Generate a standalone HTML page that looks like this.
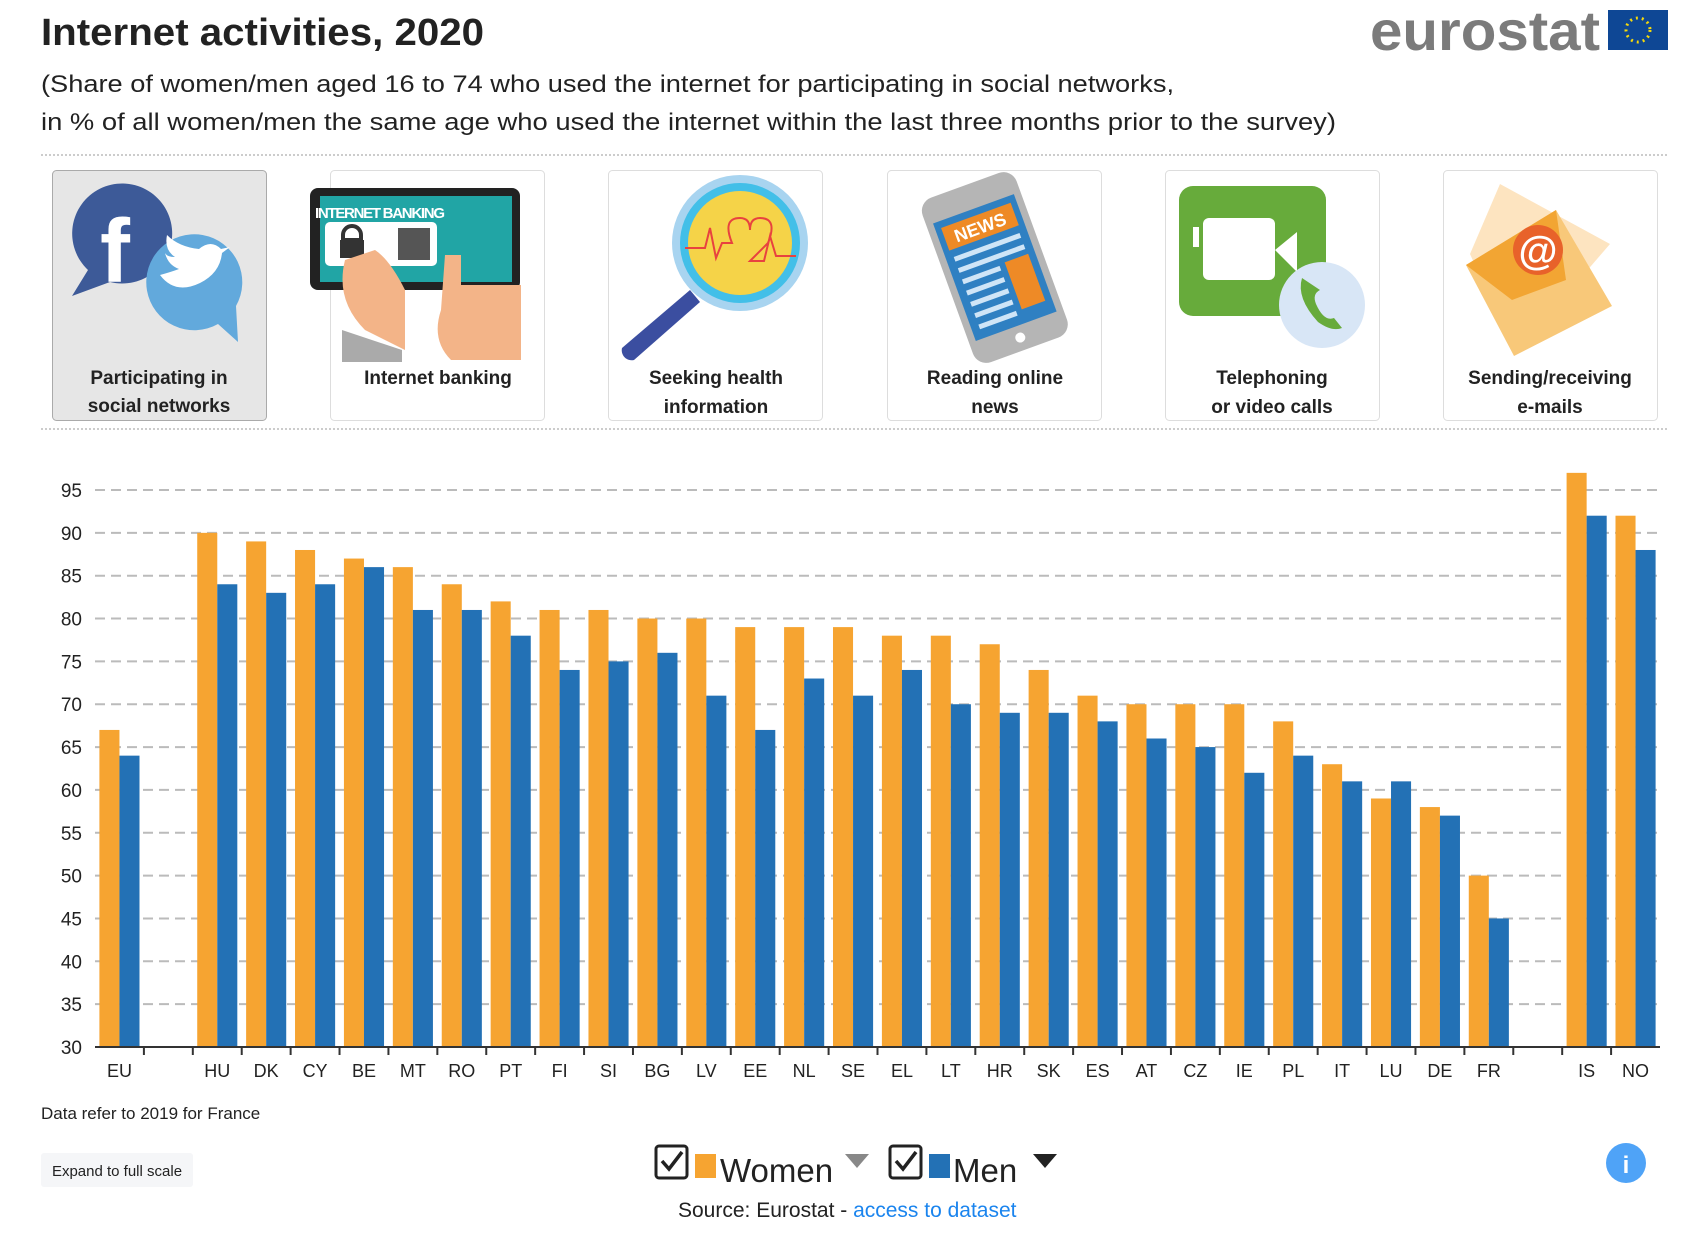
<!DOCTYPE html>
<html><head><meta charset="utf-8">
<style>
html,body{margin:0;padding:0;background:#fff;}
body{width:1684px;height:1230px;overflow:hidden;font-family:"Liberation Sans",sans-serif;}
svg text{font-family:"Liberation Sans",sans-serif;}
</style></head>
<body>
<svg id="page" width="1684" height="1230" viewBox="0 0 1684 1230" xmlns="http://www.w3.org/2000/svg">
  <text x="41" y="45" font-size="38" font-weight="bold" fill="#222" textLength="443" lengthAdjust="spacingAndGlyphs">Internet activities, 2020</text>
  <text x="41" y="92" font-size="24" fill="#222" textLength="1133" lengthAdjust="spacingAndGlyphs">(Share of women/men aged 16 to 74 who used the internet for participating in social networks,</text>
  <text x="41" y="130" font-size="24" fill="#222" textLength="1295" lengthAdjust="spacingAndGlyphs">in % of all women/men the same age who used the internet within the last three months prior to the survey)</text>

  <g>
    <text x="1370" y="50" font-size="56" font-weight="bold" fill="#7b7b7b" textLength="230" lengthAdjust="spacingAndGlyphs">eurostat</text>
    <rect x="1608" y="10" width="60" height="40" fill="#0e4795"/>
    <circle cx="1638" cy="30" r="12" fill="none" stroke="#f5d90a" stroke-width="3" stroke-dasharray="2 4"/>
  </g>

  <line x1="41" y1="155" x2="1668" y2="155" stroke="#ccc" stroke-width="2" stroke-dasharray="2 2"/>
  <line x1="41" y1="429" x2="1668" y2="429" stroke="#ccc" stroke-width="2" stroke-dasharray="2 2"/>

  <g>
    <rect x="52.5" y="170.5" width="214" height="250" rx="4" fill="#e6e6e6" stroke="#aaa"/>
    <path d="M72 296 L88 270 A50 50 0 1 1 110 282 Z" fill="#3d5a98"/>
    <text x="100" y="282" font-size="90" font-weight="bold" fill="#fff">f</text>
    <path d="M238 342 L218 324 A48 48 0 1 1 236 306 Z" fill="#62a9dc"/>
    <path d="M160 275 q15 20 40 8 q20 -10 22 -30 l8 -6 l-9 2 q-10 -10 -22 0 q-20 -2 -32 -14 q-3 15 8 22 q-8 0 -10 -4 q3 12 14 16 q-8 3 -19 6 z" fill="#fff"/>
    <text x="159" y="384" font-size="19" font-weight="bold" fill="#222" text-anchor="middle">Participating in</text>
    <text x="159" y="412" font-size="19" font-weight="bold" fill="#222" text-anchor="middle">social networks</text>
  </g>
  <g>
    <rect x="330.5" y="170.5" width="214" height="250" rx="4" fill="#fff" stroke="#ddd"/>
    <rect x="310" y="188" width="210" height="102" rx="8" fill="#222"/>
    <rect x="320" y="196" width="192" height="86" fill="#21a5a5"/>
    <text x="380" y="218" font-size="15" font-weight="bold" fill="#fff" text-anchor="middle" textLength="130">INTERNET BANKING</text>
    <rect x="325" y="222" width="112" height="44" rx="5" fill="#fff"/>
    <rect x="398" y="228" width="32" height="32" fill="#555"/>
    <path d="M343 235 a9 9 0 0 1 18 0 v5 h-18z" fill="none" stroke="#333" stroke-width="4"/>
    <rect x="340" y="240" width="24" height="18" fill="#333"/>
    <path d="M345 260 q-10 40 20 70 l40 20 l0 -60 q-15 -30 -30 -40 z" fill="#f3b488"/>
    <path d="M445 255 l16 0 l0 30 l60 0 l0 75 l-70 0 q-20 -20 -10 -50 z" fill="#f3b488"/>
    <path d="M342 330 l60 20 l0 12 l-60 0 z" fill="#aaa"/>
    <text x="438" y="384" font-size="19" font-weight="bold" fill="#222" text-anchor="middle">Internet banking</text>
  </g>
  <g>
    <rect x="608.5" y="170.5" width="214" height="250" rx="4" fill="#fff" stroke="#ddd"/>
    <circle cx="740" cy="243" r="68" fill="#a8d4f0"/>
    <circle cx="740" cy="243" r="60" fill="#42bfe8"/>
    <circle cx="740" cy="243" r="52" fill="#f5d348"/>
    <path d="M685 248 h20 l5 -20 l6 30 l6 -15 h10 q-10 -25 8 -25 q10 0 10 12 q0 -12 10 -12 q18 0 8 25 l-18 18 h14 l6 -25 l6 20 h20" fill="none" stroke="#e8423f" stroke-width="2"/>
    <path d="M690 290 l-68 58 a10 10 0 0 0 12 12 l66 -58 z" fill="#3b4ea0"/>
    <text x="716" y="384" font-size="19" font-weight="bold" fill="#222" text-anchor="middle">Seeking health</text>
    <text x="716" y="413" font-size="19" font-weight="bold" fill="#222" text-anchor="middle">information</text>
  </g>
  <g>
    <rect x="887.5" y="170.5" width="214" height="250" rx="4" fill="#fff" stroke="#ddd"/>
    <g transform="rotate(-20 995 268)">
      <rect x="945" y="180" width="100" height="175" rx="14" fill="#b5b5b5"/>
      <rect x="952" y="205" width="86" height="125" fill="#2f80c2"/>
      <rect x="958" y="212" width="74" height="24" fill="#ee8a26"/>
      <text x="995" y="231" font-size="18" font-weight="bold" font-family="Liberation Serif" fill="#fff" text-anchor="middle">NEWS</text>
      <g stroke="#cfe5f7" stroke-width="5">
        <line x1="960" y1="246" x2="1030" y2="246"/><line x1="960" y1="258" x2="1030" y2="258"/>
        <line x1="960" y1="270" x2="1000" y2="270"/><line x1="960" y1="282" x2="1000" y2="282"/>
        <line x1="960" y1="294" x2="1000" y2="294"/><line x1="960" y1="306" x2="1000" y2="306"/>
        <line x1="960" y1="318" x2="1000" y2="318"/>
      </g>
      <rect x="1006" y="266" width="25" height="50" fill="#ee8a26"/>
      <circle cx="995" cy="342" r="5" fill="#fff"/>
    </g>
    <text x="995" y="384" font-size="19" font-weight="bold" fill="#222" text-anchor="middle">Reading online</text>
    <text x="995" y="413" font-size="19" font-weight="bold" fill="#222" text-anchor="middle">news</text>
  </g>
  <g>
    <rect x="1165.5" y="170.5" width="214" height="250" rx="4" fill="#fff" stroke="#ddd"/>
    <rect x="1179" y="186" width="147" height="130" rx="14" fill="#67ab3b"/>
    <rect x="1203" y="218" width="72" height="62" rx="6" fill="#fff"/>
    <rect x="1193" y="227" width="6" height="20" fill="#fff"/>
    <path d="M1275 250 l22 -18 v40 z" fill="#fff"/>
    <circle cx="1322" cy="305" r="43" fill="#d8e6f6"/>
    <path d="M1302 278 q-6 20 16 44 q14 10 24 6 l-8 -10 q-10 4 -18 -14 q-4 -10 4 -14 z" fill="#67ab3b"/>
    <text x="1272" y="384" font-size="19" font-weight="bold" fill="#222" text-anchor="middle">Telephoning</text>
    <text x="1272" y="413" font-size="19" font-weight="bold" fill="#222" text-anchor="middle">or video calls</text>
  </g>
  <g>
    <rect x="1443.5" y="170.5" width="214" height="250" rx="4" fill="#fff" stroke="#ddd"/>
    <path d="M1500 184 l110 60 l-95 110 l-45 -100 z" fill="#fde4c0"/>
    <path d="M1466 265 l90 -55 l56 96 l-98 50 z" fill="#f8c879"/>
    <path d="M1466 265 l90 -55 l10 70 l-54 20 z" fill="#f2a533"/>
    <circle cx="1538" cy="250" r="25" fill="#e8622a"/>
    <text x="1538" y="264" font-size="40" font-weight="bold" fill="#fff" text-anchor="middle">@</text>
    <text x="1550" y="384" font-size="19" font-weight="bold" fill="#222" text-anchor="middle">Sending/receiving</text>
    <text x="1550" y="413" font-size="19" font-weight="bold" fill="#222" text-anchor="middle">e-mails</text>
  </g>

  <g id="chart"></g>

  <text x="41" y="1119" font-size="17" fill="#222">Data refer to 2019 for France</text>
  <g>
    <rect x="41" y="1153" width="152" height="34" rx="3" fill="#f5f6f8"/>
    <text x="117" y="1176" font-size="15" fill="#222" text-anchor="middle">Expand to full scale</text>
  </g>

  <g>
    <g>
      <rect x="656" y="1146" width="31" height="32" rx="3" fill="none" stroke="#222" stroke-width="3"/>
      <path d="M662 1161 l7 8 l13 -17" fill="none" stroke="#222" stroke-width="3.5"/>
      <rect x="695" y="1154" width="21" height="24" fill="#f6a431"/>
      <text x="720" y="1182" font-size="33" fill="#222">Women</text>
      <path d="M845 1154 l12 14 l12 -14 z" fill="#888"/>
    </g>
    <g>
      <rect x="890" y="1146" width="31" height="32" rx="3" fill="none" stroke="#222" stroke-width="3"/>
      <path d="M896 1161 l7 8 l13 -17" fill="none" stroke="#222" stroke-width="3.5"/>
      <rect x="929" y="1154" width="21" height="24" fill="#2371b5"/>
      <text x="953" y="1182" font-size="33" fill="#222">Men</text>
      <path d="M1033 1154 l12 14 l12 -14 z" fill="#222"/>
    </g>
  </g>
  <text x="678" y="1217" font-size="21" fill="#222">Source: Eurostat - <tspan fill="#1a84ee">access to dataset</tspan></text>
  <g>
    <circle cx="1626" cy="1163" r="20" fill="#4fa3f7"/>
    <text x="1626" y="1173" font-size="24" font-weight="bold" fill="#fff" text-anchor="middle">i</text>
  </g>
</svg>
<script>
const categories = ["EU","","HU","DK","CY","BE","MT","RO","PT","FI","SI","BG","LV","EE","NL","SE","EL","LT","HR","SK","ES","AT","CZ","IE","PL","IT","LU","DE","FR","","IS","NO"];
const women = [67,null,90,89,88,87,86,84,82,81,81,80,80,79,79,79,78,78,77,74,71,70,70,70,68,63,59,58,50,null,97,92];
const men = [64,null,84,83,84,86,81,81,78,74,75,76,71,67,73,71,74,70,69,69,68,66,65,62,64,61,61,57,45,null,92,88];
const yTicks = [30,35,40,45,50,55,60,65,70,75,80,85,90,95];

const NS = "http://www.w3.org/2000/svg";
const chart = document.getElementById('chart');
const X0 = 95, X1 = 1660, Y0 = 1047, YMIN = 30, YMAX = 95, YTOP = 490;
const slot = (X1 - X0) / categories.length;
function yScale(v){ return Y0 - (v - YMIN) * (Y0 - YTOP) / (YMAX - YMIN); }
function xScale(i){ return X0 + i * slot; }
function mk(tag, attrs){ const e = document.createElementNS(NS, tag); for (const k in attrs) e.setAttribute(k, attrs[k]); chart.appendChild(e); return e; }

yTicks.forEach(t => {
  const y = yScale(t);
  if (t !== YMIN) {
    const g = mk('line', {x1: X0, x2: X1, y1: y, y2: y, stroke: '#bbb', 'stroke-width': 2, 'stroke-dasharray': '10 6'});
    
    
  }
  const lb = mk('text', {x: 82, y: y + 7, 'font-size': 19, fill: '#222', 'text-anchor': 'end'});
  lb.textContent = t;
  
  
});

const bw = slot * 0.41, pad = (slot - 2 * bw) / 2;
categories.forEach((c, i) => {
  const x = xScale(i);
  if (women[i] != null) {
    const r = mk('rect', {x: x + pad, y: yScale(women[i]), width: bw, height: Y0 - yScale(women[i]), fill: '#f6a431'});
    
    
  }
  if (men[i] != null) {
    const r = mk('rect', {x: x + pad + bw, y: yScale(men[i]), width: bw, height: Y0 - yScale(men[i]), fill: '#2371b5'});
    
    
  }
  if (c) {
    const t = mk('text', {x: x + slot / 2, y: 1077, 'font-size': 18, fill: '#222', 'text-anchor': 'middle'});
    t.textContent = c;
    
    
  }
  if (i > 0) {
    const tk = mk('line', {x1: x, x2: x, y1: Y0, y2: Y0 + 8, stroke: '#333', 'stroke-width': 2});
    
    
  }
});
const ax = mk('line', {x1: X0, x2: X1, y1: Y0, y2: Y0, stroke: '#333', 'stroke-width': 2});


</script>
</body></html>
